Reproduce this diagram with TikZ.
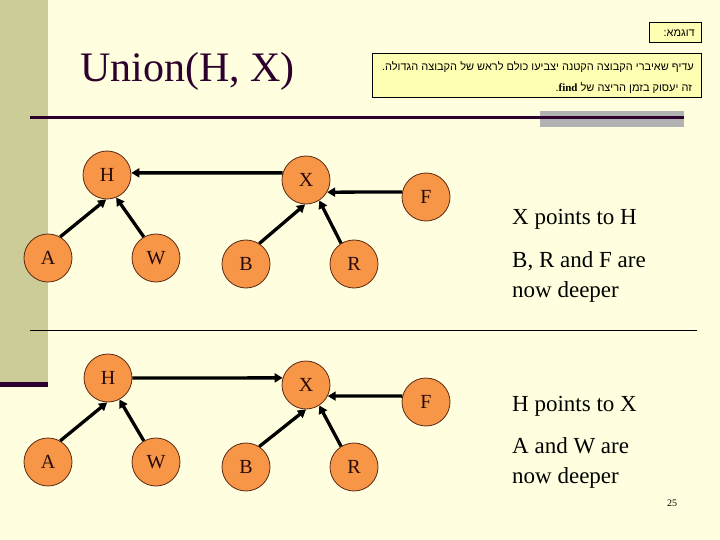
\documentclass[tikz,border=0pt]{standalone}
\usepackage{fontspec}
\setmainfont{Liberation Serif}
\newfontfamily\hebfont[Script=Hebrew]{Liberation Sans}
\TeXXeTstate=1
\usetikzlibrary{arrows.meta}
\definecolor{bgyellow}{RGB}{255,255,223}
\definecolor{barolive}{RGB}{204,204,153}
\definecolor{darkpurple}{RGB}{45,0,45}
\definecolor{boxyellow}{RGB}{255,255,180}
\definecolor{greybar}{RGB}{178,178,178}
\definecolor{nodeorange}{RGB}{247,150,70}
\definecolor{nodeline}{RGB}{90,40,20}
\definecolor{labeltext}{RGB}{40,10,10}
\tikzset{
  setnode/.style={circle, fill=nodeorange, draw=nodeline, line width=0.8pt,
    minimum size=48pt, inner sep=0pt, text=labeltext,
    font=\fontsize{20}{24}\selectfont},
  arr/.style={line width=3.3pt, -{Triangle[length=8pt,width=9pt]}},
  note/.style={anchor=north west, inner sep=0pt, align=left,
    font=\fontsize{23}{30}\selectfont, text=black},
  hebbox/.style={draw=black, line width=0.8pt, fill=boxyellow},
  hebtext/.style={anchor=base east, inner sep=0pt, font=\hebfont\fontsize{11}{14}\selectfont}
}
\begin{document}
\begin{tikzpicture}[x=1pt,y=-1pt]
\useasboundingbox (0,0) rectangle (720,540);
\fill[bgyellow] (0,0) rectangle (720,540);
% left bar
\fill[barolive] (0,0) rectangle (47.5,383);
\fill[darkpurple] (0,382) rectangle (47.5,387);
% title rule with grey block
\fill[greybar] (540,111) rectangle (684,127);
\draw[darkpurple, line width=3.5pt] (30,117.3) -- (684,117.3);
% title
\node[anchor=base west, inner sep=0pt, text=darkpurple,
  font=\fontsize{42}{46}\selectfont] (title) at (80,82) {Union(H, X)};
% hebrew boxes
\draw[hebbox] (649,22) rectangle (701,42);
\node[hebtext] (ex) at (695,37) {\beginR דוגמא:\endR};
\draw[hebbox] (372,53) rectangle (701,97.5);
\node[hebtext] (l1) at (694,71) {\beginR עדיף שאיברי הקבוצה הקטנה יצביעו כולם לראש של הקבוצה הגדולה.\endR};
\node[hebtext] (l2) at (692,92) {\beginR זה יעסוק בזמן הריצה של \beginL{\rmfamily\bfseries find}\endL.\endR};
% separator
\draw[black, line width=1pt] (30,330) -- (697,330);
% top tree
\node[setnode] (H1) at (107,175) {H};
\node[setnode] (X1) at (306,180) {X};
\node[setnode] (F1) at (426,197) {F};
\node[setnode] (A1) at (48,258) {A};
\node[setnode] (W1) at (156,258) {W};
\node[setnode] (B1) at (246,264) {B};
\node[setnode] (R1) at (354,264) {R};
\draw[arr] (X1.163) -- (H1.5);
\draw[arr] (F1.168) -- (X1.330);
\draw[arr] (A1.60) -- (H1.268);
\draw[arr] (W1.120) -- (H1.292);
\draw[arr] (B1.57) -- (X1.268);
\draw[arr] (R1.122) -- (X1.303);
% bottom tree
\node[setnode] (H2) at (108,378) {H};
\node[setnode] (X2) at (306,385) {X};
\node[setnode] (F2) at (426,402) {F};
\node[setnode] (A2) at (48,462) {A};
\node[setnode] (W2) at (156,462) {W};
\node[setnode] (B2) at (246,467) {B};
\node[setnode] (R2) at (354,467) {R};
\draw[arr] (H2.east) -- (X2.163);
\draw[arr] (F2.166) -- (X2.333);
\draw[arr] (A2.60) -- (H2.268);
\draw[arr] (W2.120) -- (H2.298);
\draw[arr] (B2.57) -- (X2.270);
\draw[arr] (R2.122) -- (X2.303);
% notes
\node[note] (n1) at (512,209) {X points to H};
\node[note] (n2) at (512,251) {B, R and F are\\now deeper};
\node[note] (n3) at (512,396) {H points to X};
\node[note] (n4) at (512,437) {A and W are\\now deeper};
\node[anchor=base, inner sep=0pt, font=\fontsize{10}{12}\selectfont] (pg) at (672,506) {25};
\end{tikzpicture}
\end{document}
